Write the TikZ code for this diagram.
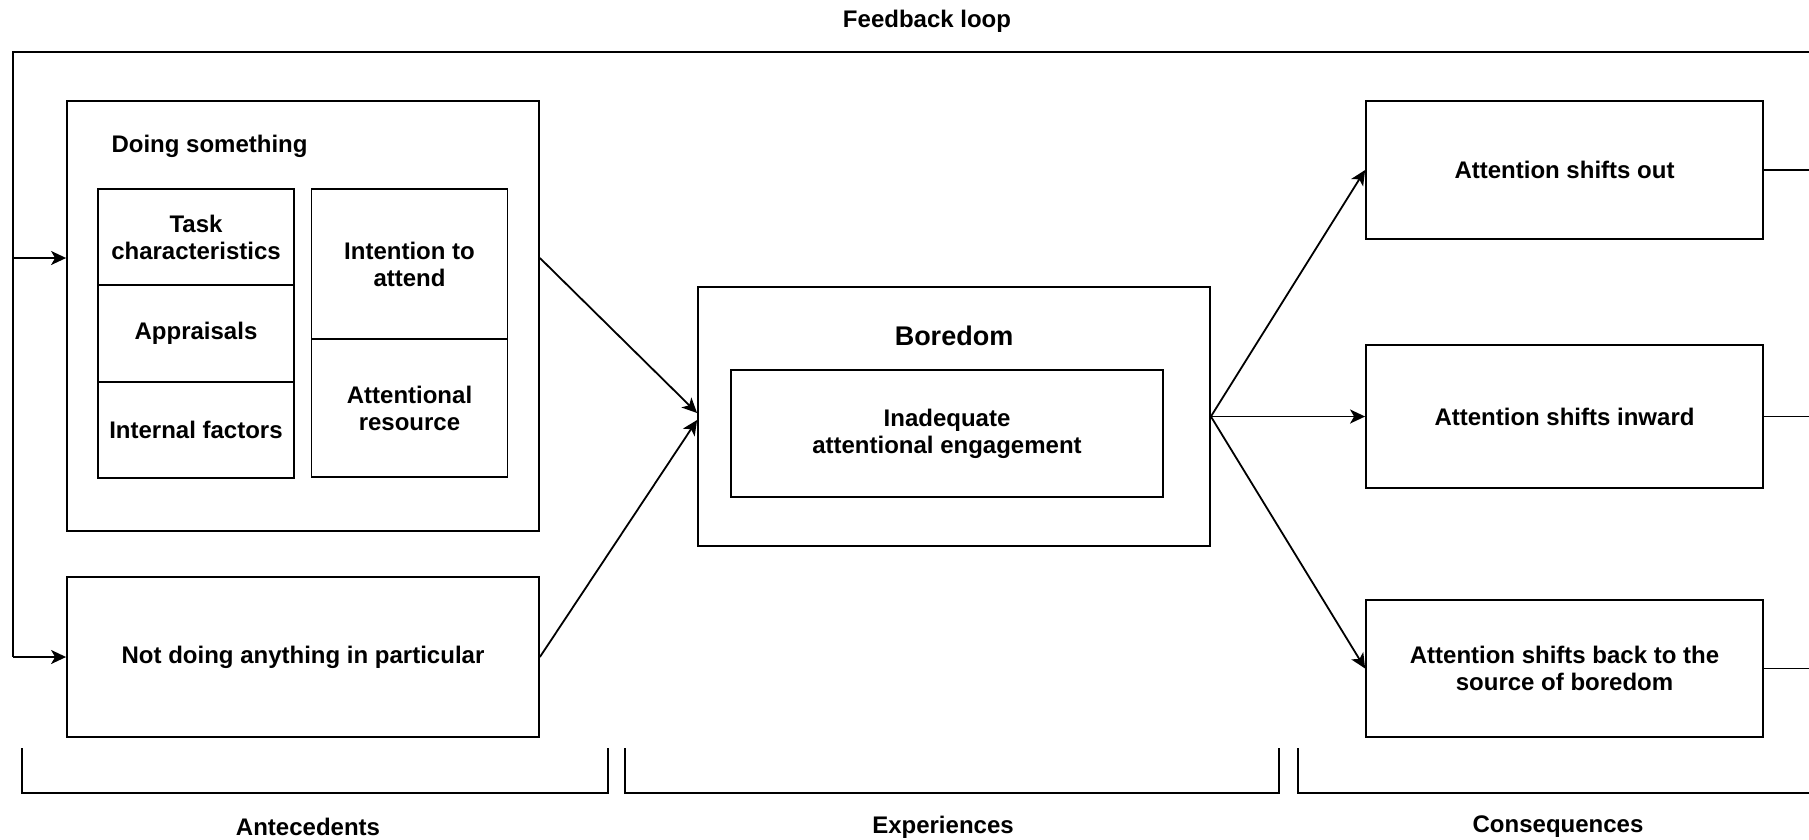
\documentclass[tikz,border=0pt]{standalone}
\usepackage{fontspec}
\setmainfont{Liberation Sans}
\usetikzlibrary{arrows.meta}
\tikzset{
  lbl/.style={font=\fontsize{24}{27}\selectfont\bfseries, align=center},
  box/.style={draw, line width=1.8pt, lbl, inner sep=0pt},
  conn/.style={line width=1.8pt, -{Stealth[length=15pt,width=14pt,inset=4pt]}},
  plain/.style={line width=1.8pt},
}
\begin{document}
\begin{tikzpicture}[x=1pt,y=-1pt]
\useasboundingbox (0,0) rectangle (1809,839);
% feedback loop
\node[lbl] (fbl) at (927,21) {Feedback loop};
\coordinate (fbTR) at (1809,52);
\coordinate (fbTL) at (12.7,52);
\coordinate (fbB) at (12.7,657);
\coordinate (fbM) at (12.7,258);
% antecedents
\node[box, minimum width=472pt, minimum height=430pt] (doing) at (303,316) {};
\node[lbl, anchor=west] (dl) at (108,146) {Doing something};
\node[box, minimum width=196pt, minimum height=96pt] (task) at (196,237) {Task\\characteristics};
\node[box, minimum width=196pt, minimum height=97pt] (appr) at (196,333.5) {Appraisals};
\node[box, minimum width=196pt, minimum height=96pt] (intf) at (196,430) {Internal factors};
\node[box, minimum width=196pt, minimum height=150pt] (intent) at (409.5,264) {Intention to\\attend};
\node[box, minimum width=196pt, minimum height=138pt] (attres) at (409.5,408) {Attentional\\resource};
\node[box, minimum width=472pt, minimum height=160pt] (notdoing) at (303,657) {Not doing anything in particular};
% experiences
\node[box, minimum width=512pt, minimum height=259pt] (boredom) at (954,416.5) {};
\node[lbl, font=\fontsize{27}{30}\selectfont\bfseries] (bt) at (954,336) {Boredom};
\node[box, minimum width=432pt, minimum height=127pt] (inner) at (947,433.5) {Inadequate\\attentional engagement};
% consequences
\node[box, minimum width=397pt, minimum height=137.5pt] (out) at (1564.5,170) {Attention shifts out};
\node[box, minimum width=397pt, minimum height=143pt] (inward) at (1564.5,416.5) {Attention shifts inward};
\node[box, minimum width=397pt, minimum height=137pt] (back) at (1564.5,668.5) {Attention shifts back to the\\source of boredom};
% connectors
\draw[plain] (fbTR) -- (fbTL) -- (fbB);
\draw[conn] (fbB) -- (notdoing.west);
\draw[conn] (fbM) -- (fbM -| doing.west);
\draw[conn] (fbM -| doing.east) -- ([yshift=3.5pt]boredom.west);
\draw[conn] (notdoing.east) -- ([yshift=-3.5pt]boredom.west);
\draw[conn] (boredom.east) -- (out.west);
\draw[conn] (boredom.east) -- (inward.west);
\draw[conn] (boredom.east) -- (back.west);
\draw[plain] (out.east) -- (out.east -| fbTR);
\draw[plain] (inward.east) -- (inward.east -| fbTR);
\draw[plain] (back.east) -- (back.east -| fbTR);
% brackets
\draw[plain] (22,748) -- (22,793) -- (608,793) -- (608,748);
\draw[plain] (625,748) -- (625,793) -- (1279,793) -- (1279,748);
\draw[plain] (1298,748) -- (1298,793) -- (1809,793);
\node[lbl] (ant) at (308,827) {Antecedents};
\node[lbl] (exp) at (943,827) {Experiences};
\node[lbl] (con) at (1558,827) {Consequences};
\end{tikzpicture}
\end{document}
